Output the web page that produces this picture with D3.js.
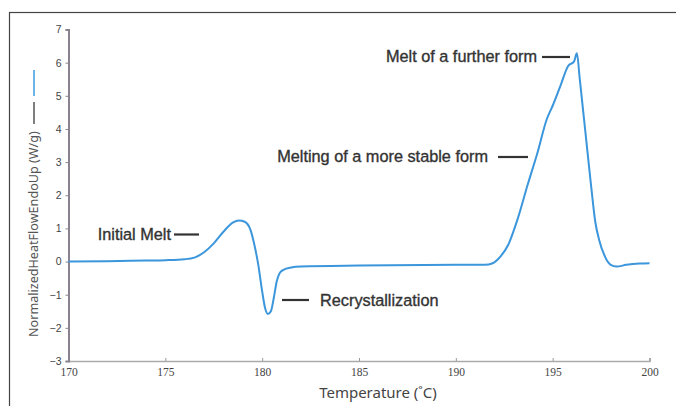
<!DOCTYPE html>
<html><head><meta charset="utf-8">
<script src="https://cdn.jsdelivr.net/npm/d3@7/dist/d3.min.js"></script>
<style>html,body{margin:0;padding:0;background:#fff;overflow:hidden}</style>
</head><body>
<svg id="c" width="676" height="406"></svg>
<script>
const temps = [170.0,172.0,174.0,175.0,176.0,176.5,177.0,177.5,178.0,178.5,178.8,179.1,179.4,179.6,179.8,180.0,180.15,180.3,180.45,180.6,180.75,180.9,181.1,181.5,182.0,185.0,190.0,191.5,191.9,192.3,192.7,193.2,193.7,194.2,194.7,195.0,195.4,195.8,196.1,196.25,196.4,196.7,197.0,197.2,197.4,197.7,198.0,198.3,198.8,199.5,200.0];
const heatFlow = [0.00,0.01,0.03,0.04,0.07,0.12,0.28,0.55,0.90,1.18,1.24,1.20,0.95,0.50,-0.10,-0.90,-1.40,-1.58,-1.50,-1.10,-0.60,-0.35,-0.25,-0.18,-0.15,-0.12,-0.10,-0.10,-0.05,0.15,0.50,1.30,2.30,3.25,4.30,4.70,5.30,5.90,6.03,6.28,5.50,3.85,2.20,1.20,0.65,0.15,-0.10,-0.15,-0.10,-0.06,-0.05];
const xTicks = [170,175,180,185,190,195,200];
const yTicks = [-3,-2,-1,0,1,2,3,4,5,6,7];
const annotations = [
  {text:"Initial Melt", t:178.6, v:0.85},
  {text:"Recrystallization", t:180.7, v:-1.2},
  {text:"Melting of a more stable form", t:193.5, v:3.15},
  {text:"Melt of a further form", t:196.0, v:6.15}
];

const svg = d3.select("#c");
const x = d3.scaleLinear().domain([170,200]).range([68.5,649.5]);
const y = d3.scaleLinear().domain([-3,7]).range([361,29.5]);

// outer frame
svg.append("rect").attr("x",9.5).attr("y",12.5).attr("width",720).attr("height",430)
  .attr("fill","none").attr("stroke","#444").attr("stroke-width",1.2);

// x axis
const xa = svg.append("g").attr("transform","translate(0,"+y(-3)+")")
  .call(d3.axisBottom(x).tickValues(xTicks).tickSize(-3).tickPadding(7).tickFormat(d3.format("d")));
xa.select(".domain").attr("stroke","#aaa").attr("stroke-width",1.6);
xa.selectAll(".tick line").attr("stroke","#999");
xa.selectAll("text").attr("font-family","'Liberation Serif', serif").attr("font-size",11.5).attr("fill","#444");

// y axis
const ya = svg.append("g").attr("transform","translate("+x(170)+",0)")
  .call(d3.axisLeft(y).tickValues(yTicks).tickSize(3).tickPadding(4).tickFormat(d3.format("d")));
ya.select(".domain").attr("stroke","#8a8290").attr("stroke-width",2);
ya.selectAll(".tick line").attr("stroke","#888");
ya.selectAll("text").attr("font-family","'Liberation Sans', Arial, sans-serif").attr("font-size",10.5).attr("fill","#444");

// axis titles
svg.append("text").attr("x",378).attr("y",398).attr("text-anchor","middle")
  .attr("font-family","'Noto Sans', sans-serif").attr("font-size",15).attr("fill","#444")
  .text("Temperature (˚C)");
svg.append("text").attr("transform","translate(38,337) rotate(-90)").attr("text-anchor","start")
  .attr("font-family","'Noto Sans', sans-serif").attr("font-size",12.6).attr("fill","#555")
  .text("NormalizedHeatFlowEndoUp (W/g)");
svg.append("line").attr("x1",34).attr("x2",34).attr("y1",124).attr("y2",102).attr("stroke","#555").attr("stroke-width",1.5);
svg.append("line").attr("x1",34).attr("x2",34).attr("y1",96).attr("y2",70).attr("stroke","#3b9be0").attr("stroke-width",1.5);

// curve
const pts = temps.map((t,i)=>[t,heatFlow[i]]);
svg.append("path").datum(pts)
  .attr("d", d3.line().x(d=>x(d[0])).y(d=>y(d[1])).curve(d3.curveMonotoneX))
  .attr("fill","none").attr("stroke","#3b96dc").attr("stroke-width",2);

// annotations
const font = "'Liberation Sans', Arial, sans-serif";
function ann(a, tx, ty, lx1, lx2, ly, anchor){
  svg.append("text").attr("x",tx).attr("y",ty).attr("text-anchor",anchor)
    .attr("font-family",font).attr("font-size",16.3).attr("fill","#333")
    .attr("stroke","#333").attr("stroke-width",0.35).text(a.text);
  svg.append("line").attr("x1",lx1).attr("x2",lx2).attr("y1",ly).attr("y2",ly)
    .attr("stroke","#333").attr("stroke-width",2.2);
}
ann(annotations[0], 171, 239.5, 174, 199, 234.5, "end");
ann(annotations[1], 320, 305.5, 282, 309, 300, "start");
ann(annotations[2], 488, 162, 498, 528, 157, "end");
ann(annotations[3], 537, 61.5, 542, 570, 57, "end");
</script>
</body></html>
